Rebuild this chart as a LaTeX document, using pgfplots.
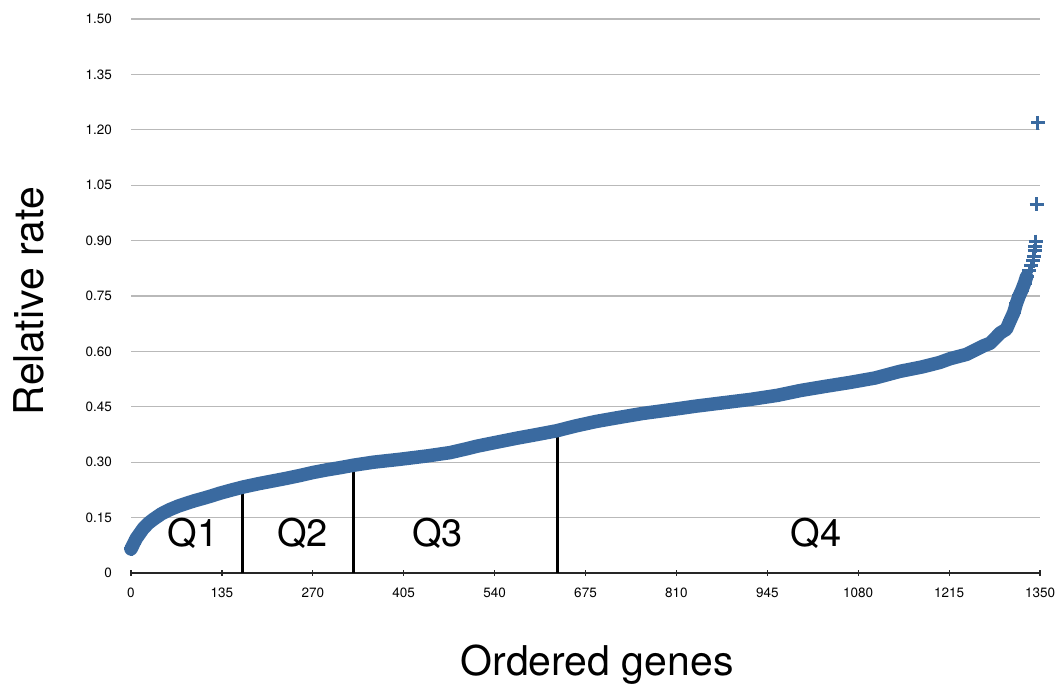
\documentclass[border=0pt]{standalone}
\usepackage{pgfplots}
\pgfplotsset{compat=1.18}
\usepackage{fontspec}
\setmainfont{TeX Gyre Heros}
\definecolor{bandblue}{RGB}{58,106,160}
\definecolor{gridgray}{RGB}{185,185,185}
\begin{document}
\begin{tikzpicture}[x=1pt,y=1pt]
\useasboundingbox (0,0) rectangle (1059,687);
\begin{axis}[
  at={(131pt,114pt)}, anchor=south west,
  scale only axis, width=909pt, height=554pt,
  xmin=0, xmax=1350, ymin=0, ymax=1.5,
  clip=false,
  axis lines*=left,
  x axis line style={-, color=black!85, line width=1.2pt},
  y axis line style={draw=none},
  ymajorgrids, grid style={gridgray, line width=1.2pt},
  xtick={0,135,270,405,540,675,810,945,1080,1215,1350},
  xticklabels={0,135,270,405,540,675,810,945,1080,1215,1350},
  ytick={0,0.15,0.30,0.45,0.60,0.75,0.90,1.05,1.20,1.35,1.50},
  yticklabels={0,0.15,0.30,0.45,0.60,0.75,0.90,1.05,1.20,1.35,1.50},
  tick label style={font=\fontsize{13.5}{15}\selectfont, inner sep=0pt},
  xtick style={black!85, line width=1.2pt},
  tick align=center, major tick length=6pt,
  ytick style={draw=none},
  yticklabel style={anchor=east, xshift=-16pt},
  xticklabel style={anchor=north, yshift=-12pt},
]
% quartile boundaries
\addplot[black, line width=3pt, no marks] coordinates {(166,0) (166,0.236)};
\addplot[black, line width=3pt, no marks] coordinates {(331,0) (331,0.296)};
\addplot[black, line width=3pt, no marks] coordinates {(634,0) (634,0.388)};
% dense band
\addplot[bandblue, line width=13.5pt, no marks, line join=round, line cap=round] coordinates {
(0,0.065) (2,0.072) (4,0.080) (8,0.094) (13,0.107) (18,0.120) (26,0.135) (33,0.145)
(45,0.160) (58,0.172) (70,0.181) (83,0.189) (95,0.196) (107,0.202) (120,0.209)
(132,0.216) (150,0.225) (167,0.233) (190,0.242) (210,0.249) (230,0.256) (251,0.264)
(270,0.272) (290,0.279) (310,0.285) (331,0.292) (360,0.300) (400,0.308) (440,0.317)
(474,0.326) (500,0.337) (513,0.343) (540,0.353) (573,0.365) (600,0.374) (632,0.385)
(660,0.398) (690,0.410) (721,0.420) (760,0.432) (805,0.443) (840,0.452) (880,0.461)
(920,0.470) (960,0.481) (994,0.494) (1030,0.505) (1068,0.516) (1105,0.528)
(1142,0.546) (1175,0.558) (1201,0.570) (1216,0.580) (1241,0.592) (1266,0.615)
(1276,0.622) (1291,0.650) (1300,0.660) (1306,0.685) (1311,0.705) (1315,0.730)
(1319,0.750) (1323,0.766) (1327,0.785) (1330,0.802)
};
% individual markers
\addplot[only marks, mark=+, mark size=7pt, mark options={bandblue, line width=3pt}] coordinates {
(0,0.065) (2,0.072) (4,0.080) (8,0.094) (13,0.107) (18,0.120) (26,0.135) (33,0.145)
(1266,0.615) (1276,0.622)
(1291,0.650) (1300,0.660) (1306,0.685) (1311,0.705) (1315,0.730)
(1319,0.750) (1323,0.766) (1327,0.785) (1330,0.802) (1334,0.818) (1337,0.832)
(1340,0.845) (1341,0.857) (1342,0.873) (1343,0.885) (1344,0.897) (1345,0.999) (1347,1.219)
};
\node[anchor=base, font=\fontsize{38}{40}\selectfont] at (axis cs:92,0.072) {Q1};
\node[anchor=base, font=\fontsize{38}{40}\selectfont] at (axis cs:255,0.072) {Q2};
\node[anchor=base, font=\fontsize{38}{40}\selectfont] at (axis cs:455,0.072) {Q3};
\node[anchor=base, font=\fontsize{38}{40}\selectfont] at (axis cs:1017,0.072) {Q4};
\end{axis}
\node[anchor=base, font=\fontsize{41}{44}\selectfont] at (597,11) {Ordered genes};
\node[anchor=base, rotate=90, font=\fontsize{41}{44}\selectfont] at (43.5,386) {Relative rate};
\end{tikzpicture}
\end{document}
